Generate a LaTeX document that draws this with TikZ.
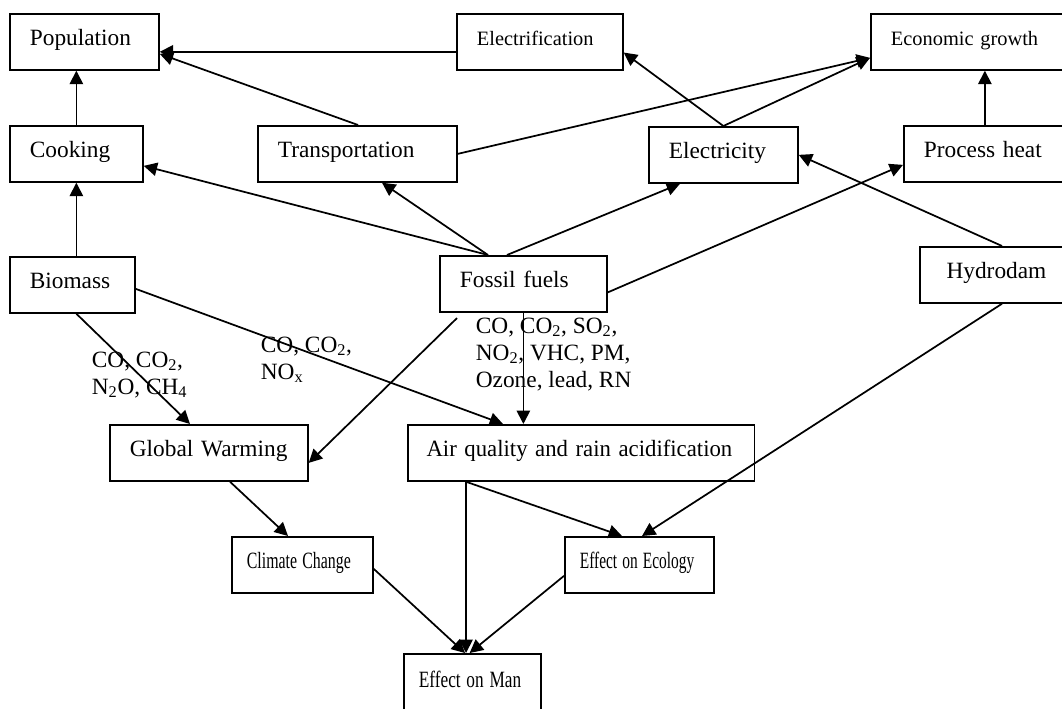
\documentclass[tikz,border=0pt]{standalone}
\usepackage{fontspec}
\setmainfont{Liberation Serif}
\usetikzlibrary{arrows.meta, positioning}
\tikzstyle{box} = [draw, rectangle, anchor=north west, align=left, inner xsep=15pt, inner ysep=0pt, minimum height=42pt, text height=11pt, text depth=5pt, font=\fontsize{17.5}{21}\selectfont]
\tikzstyle{small} = [font=\fontsize{15.3}{18}\selectfont]
\tikzstyle{gas} = [anchor=base west, align=left, inner sep=0pt, font=\fontsize{17.5}{20.25}\selectfont]
\tikzstyle{link} = [draw, -{Triangle[length=10pt, width=10pt]}]
\newcommand{\narrow}[2]{\scalebox{#1}[1]{#2}}

\begin{document}
\begin{tikzpicture}[x=0.75pt, y=-0.75pt, line width=1.3pt]
			\useasboundingbox (0,0) rectangle (1062,709);
			\node [box, text width=81.75pt] (pop) at (9,13) {Population};
			\node [box, small, text width=94.5pt] (elfy) at (456,13) {Electrification};
			\node [box, small, text width=117pt] (econ) at (870,13) {Economic growth};
			\node [box, text width=69.75pt] (cook) at (9,125) {Cooking};
			\node [box, text width=119.25pt] (trans) at (257,125) {Transportation};
			\node [box, text width=81.75pt] (elec) at (648,126) {Electricity};
			\node [box, text width=91.5pt] (heat) at (903,125) {Process heat};
			\node [box, text width=63.75pt] (bio) at (9,256) {Biomass};
			\node [box, text width=95.25pt] (fossil) at (439,255) {Fossil fuels};
			\node [box, inner xsep=20pt, text width=85pt] (hydro) at (919,246) {Hydrodam};
			\node [box, text width=118.5pt] (warm) at (109,424) {Global Warming};
			\node [box, inner xsep=14pt, text width=232pt] (air) at (407,424) {\narrow{0.975}{Air quality and rain acidification}};
			\node [box, inner xsep=11.25pt, text width=83.25pt] (climate) at (231,536) {\narrow{0.68}{Climate Change}};
			\node [box, inner xsep=11.25pt, text width=89.25pt] (ecology) at (564,536) {\narrow{0.66}{Effect on Ecology}};
			\node [box, inner xsep=11.25pt, text width=80.25pt, minimum height=45pt] (man) at (403,653) {\narrow{0.74}{Effect on Man}};

			\node [gas] (gasbio) at (91,394) {CO, CO\textsubscript{2},\\N\textsubscript{2}O, CH\textsubscript{4}};
			\node [gas] (gasair) at (260,379) {CO, CO\textsubscript{2},\\NO\textsubscript{x}};
			\node [gas] (gasfossil) at (475,387) {CO, CO\textsubscript{2}, SO\textsubscript{2},\\NO\textsubscript{2}, VHC, PM,\\Ozone, lead, RN};

			% uses of energy
			\path [link] (cook.north) -- (cook.north |- pop.south);
			\path [link] (cook.south |- bio.north) -- (cook.south);
			\path [link] ([yshift=-7.5pt]elfy.west) -- ([yshift=-7.5pt]pop.east);
			\path [link] ([xshift=75.75pt]trans.north west) -- ([yshift=-9pt]pop.east);
			\path [link] (trans.east) -- ([yshift=-12pt]econ.west);
			\path [link] (elec.north) -- ([yshift=-12pt]econ.west);
			\path [link] (elec.north) -- ([yshift=-8pt]elfy.east);
			\path [link] (heat.north) -- (heat.north |- econ.south);
			\path [link] ([xshift=62.25pt]hydro.north west) -- (elec.east);
			\path [link] ([xshift=36.75pt]fossil.north west) -- ([yshift=-9pt]cook.east);
			\path [link] ([xshift=36.75pt]fossil.north west) -- ([xshift=93.75pt]trans.south west);
			\path [link] ([xshift=51pt]fossil.north west) -- ([xshift=24pt]elec.south west);
			\path [link] ([yshift=-6.4pt]fossil.east) -- ([yshift=-8.25pt]heat.west);

			% emissions and effects
			\path [link] (fossil.south) -- (fossil.south |- air.north);
			\path [link] ([shift={(13.5pt,-4pt)}]fossil.south west) -- ([yshift=-7.5pt]warm.east);
			\path [link] ([yshift=-3pt]bio.east) -- ([xshift=72pt]air.north west);
			\path [link] (cook.south |- bio.south) -- ([xshift=60.75pt]warm.north west);
			\path [link] ([xshift=90.75pt]warm.south west) -- ([xshift=42.75pt]climate.north west);
			\path [link] ([xshift=44.25pt]air.south west) -- ([xshift=44.25pt]air.south west |- man.north);
			\path [link] ([xshift=44.25pt]air.south west) -- ([xshift=43.5pt]ecology.north west);
			\path [link] ([xshift=62.25pt]hydro.south west) -- ([xshift=58.5pt]ecology.north west);
			\path [link] ([yshift=-3pt]climate.east) -- ([xshift=46.5pt]man.north west);
			\path [link] ([yshift=-8.25pt]ecology.west) -- ([xshift=50pt]man.north west);
		\end{tikzpicture}
\end{document}
